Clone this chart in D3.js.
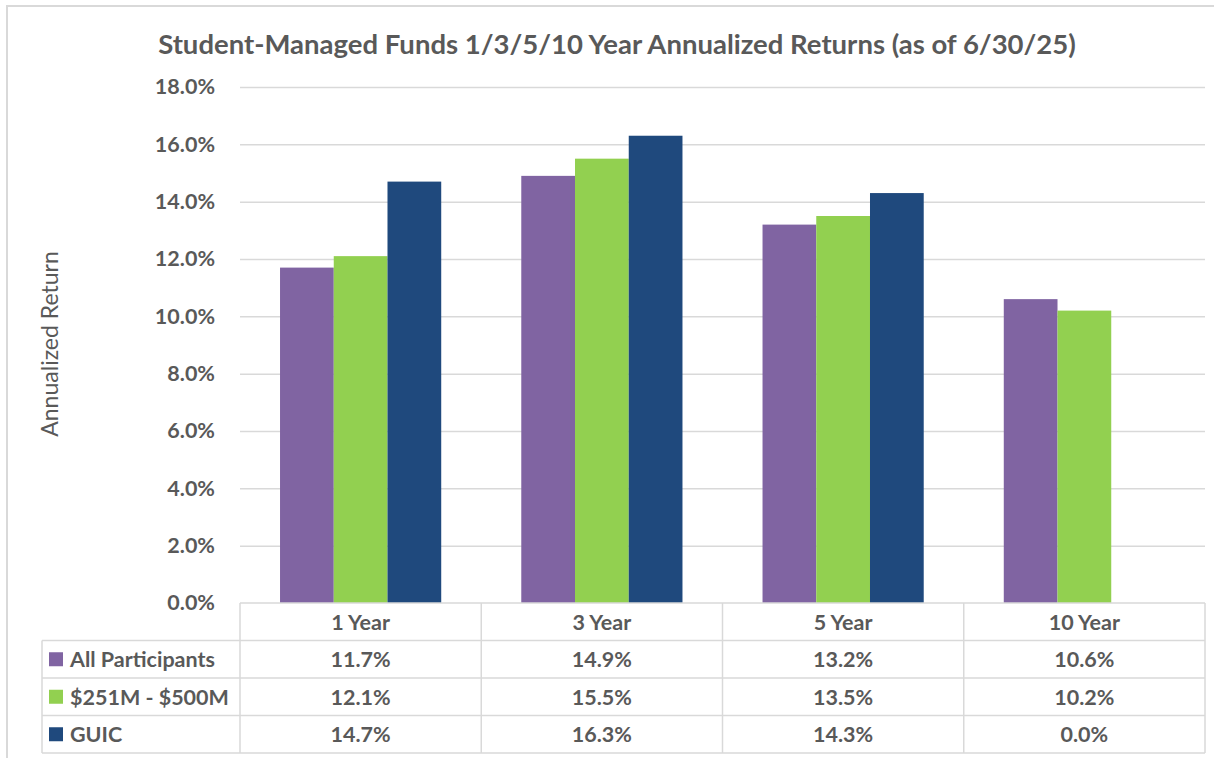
<!DOCTYPE html>
<html>
<head>
<meta charset="utf-8">
<script src="https://cdn.jsdelivr.net/npm/d3@7"></script>
<style>
  html, body { margin: 0; padding: 0; background: #fff; }
  svg { display: block; font-family: Lato, "Open Sans", sans-serif; }
</style>
</head>
<body>
<script>
const categories = ["1 Year", "3 Year", "5 Year", "10 Year"];
const seriesNames = ["All Participants", "$251M - $500M", "GUIC"];
const allParticipants = [0.117, 0.149, 0.132, 0.106];
const midSize = [0.121, 0.155, 0.135, 0.102];
const guic = [0.147, 0.163, 0.143, 0.0];
const yTicks = [0, 0.02, 0.04, 0.06, 0.08, 0.1, 0.12, 0.14, 0.16, 0.18];

const series = [allParticipants, midSize, guic];
const colors = ["#8064A2", "#92D050", "#1F497D"];

const width = 1214;
const height = 758;
const plotLeft = 240;
const plotRight = 1205;
const plotTop = 87;
const plotBottom = 603;
const rowH = 37.5;
const textColor = "#595959";
const lineColor = "#d9d9d9";
const labelSize = 21.5;

const svg = d3
  .select("body")
  .append("svg")
  .attr("width", width)
  .attr("height", height);

// outer frame (cut by the image on right and bottom)
svg
  .append("path")
  .attr("d", `M7 ${height} V6 H${width}`)
  .attr("fill", "none")
  .attr("stroke", lineColor)
  .attr("stroke-width", 2);

const x0 = d3
  .scaleBand()
  .domain(categories)
  .range([plotLeft, plotRight])
  .padding(0);
const x1 = d3
  .scaleBand()
  .domain(d3.range(series.length))
  .range([0, x0.bandwidth()])
  .paddingInner(0)
  .paddingOuter(0.745);

const yScale = d3.scaleLinear().domain([0, 0.18]).range([plotBottom, plotTop]);

// gridlines
const grid = d3
  .axisLeft(yScale)
  .tickValues(yTicks.slice(1))
  .tickSize(-(plotRight - plotLeft))
  .tickFormat("");
svg
  .append("g")
  .attr("transform", `translate(${plotLeft} 0)`)
  .call(grid)
  .call((g) => g.select(".domain").remove())
  .call((g) =>
    g.selectAll("line").attr("stroke", lineColor).attr("stroke-width", 1.5)
  );

// y axis labels
const yAxis = d3
  .axisLeft(yScale)
  .tickValues(yTicks)
  .tickSize(0)
  .tickPadding(0)
  .tickFormat(d3.format(".1%"));
svg
  .append("g")
  .attr("transform", `translate(215 0)`)
  .call(yAxis)
  .call((g) => g.select(".domain").remove())
  .call((g) =>
    g
      .selectAll("text")
      .attr("fill", textColor)
      .attr("font-size", labelSize)
      .attr("font-weight", "bold")
      .attr("font-family", "Lato, sans-serif")
  );

// bars
const groups = svg
  .append("g")
  .selectAll("g")
  .data(categories)
  .enter()
  .append("g")
  .attr("transform", (d) => `translate(${x0(d)} 0)`);

groups
  .selectAll("rect")
  .data((d, i) => series.map((s, j) => ({ j, v: s[i] })))
  .enter()
  .append("rect")
  .attr("x", (d) => x1(d.j))
  .attr("width", x1.bandwidth())
  .attr("y", (d) => yScale(d.v))
  .attr("height", (d) => plotBottom - yScale(d.v))
  .attr("fill", (d) => colors[d.j]);

// data table
const table = svg.append("g");
const tableLeft = 42;
const tableBottom = plotBottom + rowH * 4;

table
  .append("line")
  .attr("x1", plotLeft)
  .attr("x2", plotRight)
  .attr("y1", plotBottom)
  .attr("y2", plotBottom);
d3.range(1, 5).forEach((r) => {
  table
    .append("line")
    .attr("x1", tableLeft)
    .attr("x2", plotRight)
    .attr("y1", plotBottom + rowH * r)
    .attr("y2", plotBottom + rowH * r);
});
table
  .append("line")
  .attr("x1", tableLeft)
  .attr("x2", tableLeft)
  .attr("y1", plotBottom + rowH)
  .attr("y2", tableBottom);
[...categories.map((c) => x0(c)), plotRight].forEach((x) => {
  table
    .append("line")
    .attr("x1", x)
    .attr("x2", x)
    .attr("y1", plotBottom)
    .attr("y2", tableBottom);
});
table
  .selectAll("line")
  .attr("stroke", lineColor)
  .attr("stroke-width", 1.5);

const cellText = (sel) =>
  sel
    .attr("fill", textColor)
    .attr("font-size", labelSize)
    .attr("font-weight", "bold")
    .attr("dominant-baseline", "central");

table
  .selectAll("text.cat")
  .data(categories)
  .enter()
  .append("text")
  .attr("class", "cat")
  .attr("x", (d) => x0(d) + x0.bandwidth() / 2)
  .attr("y", plotBottom + rowH / 2)
  .attr("text-anchor", "middle")
  .text((d) => d)
  .call(cellText);

seriesNames.forEach((name, j) => {
  const cy = plotBottom + rowH * (j + 1.5);
  table
    .append("rect")
    .attr("x", 49)
    .attr("y", cy - 7)
    .attr("width", 14)
    .attr("height", 14)
    .attr("fill", colors[j]);
  table
    .append("text")
    .attr("x", 70)
    .attr("y", cy)
    .text(name)
    .call(cellText);
  table
    .selectAll(`text.v${j}`)
    .data(series[j])
    .enter()
    .append("text")
    .attr("class", `v${j}`)
    .attr("x", (d, i) => x0(categories[i]) + x0.bandwidth() / 2)
    .attr("y", cy)
    .attr("text-anchor", "middle")
    .text((d) => d3.format(".1%")(d))
    .call(cellText);
});

// title
svg
  .append("text")
  .attr("x", 617)
  .attr("y", 54)
  .attr("text-anchor", "middle")
  .attr("fill", textColor)
  .attr("font-size", 27.5)
  .attr("font-weight", "bold")
  .text("Student-Managed Funds 1/3/5/10 Year Annualized Returns (as of 6/30/25)");

// y axis title
svg
  .append("text")
  .attr("transform", "translate(49 344) rotate(-90)")
  .attr("text-anchor", "middle")
  .attr("dominant-baseline", "central")
  .attr("fill", textColor)
  .attr("font-size", 23)
  .text("Annualized Return");
</script>
</body>
</html>
